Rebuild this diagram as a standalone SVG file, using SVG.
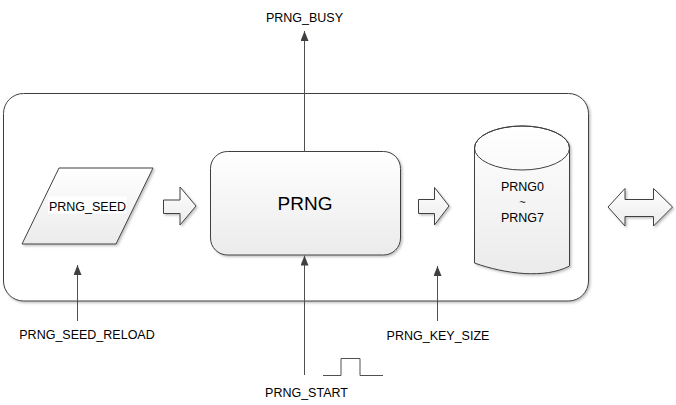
<svg xmlns="http://www.w3.org/2000/svg" width="676" height="405" viewBox="0 0 676 405">
<defs>
<linearGradient id="g" x1="0" y1="0" x2="0" y2="1">
<stop offset="0" stop-color="#ffffff"/>
<stop offset="1" stop-color="#ebebeb"/>
</linearGradient>
<filter id="sh" x="-10%" y="-10%" width="130%" height="130%">
<feDropShadow dx="1.5" dy="1.5" stdDeviation="1" flood-color="#000" flood-opacity="0.25"/>
</filter>
<marker id="ah" markerWidth="10" markerHeight="8" refX="10" refY="4" orient="auto" markerUnits="userSpaceOnUse">
<path d="M0,0 L10,4 L0,8 z" fill="#404040"/>
</marker>
<style>
.shape{fill:url(#g);stroke:#404040;stroke-width:1;filter:url(#sh)}
.t{font-family:"Liberation Sans",Arial,sans-serif;font-size:12.5px;fill:#000;text-anchor:middle}
.c{stroke:#505050;stroke-width:1;fill:none}
</style>
</defs>
<rect width="676" height="405" fill="#fff"/>
<g id="outer">
<rect x="3.5" y="93.5" width="585" height="207.5" rx="20" ry="20" fill="#fff" stroke="#404040" stroke-width="1" filter="url(#sh)"/>
</g>
<g id="seed">
<polygon class="shape" points="59,168 153,168 116,244 22,244"/>
<rect x="48" y="196.5" width="79" height="17" fill="#fff"/>
<text class="t" x="87.5" y="210.5">PRNG_SEED</text>
</g>
<g id="arrow1">
<polygon class="shape" points="163.5,200 180,200 180,187 196,206 180,225 180,213.5 163.5,213.5"/>
</g>
<g id="prng">
<rect class="shape" x="210.5" y="151.5" width="190" height="103.5" rx="17" ry="17"/>
<text class="t" x="305" y="210" style="font-size:19px">PRNG</text>
</g>
<g id="arrow2">
<polygon class="shape" points="418.5,199.5 434.5,199.5 434.5,187.5 449,206 434.5,225 434.5,213.5 418.5,213.5"/>
</g>
<g id="store">
<path class="shape" d="M474.5,148 A47.5,22 0 0 1 569.5,148 L569.5,266 C545,279 505,274 474.5,263 Z"/>
<ellipse cx="522" cy="148" rx="47.5" ry="22" fill="none" stroke="#404040" stroke-width="1"/>
<text class="t" x="522.5" y="190.5">PRNG0</text>
<text class="t" x="522.5" y="206" style="font-size:11px">~</text>
<text class="t" x="522.5" y="221.5">PRNG7</text>
</g>
<g id="bus">
<polygon class="shape" points="608,207 625,188.5 625,199.5 653.5,199.5 653.5,188.5 672.5,207 653.5,226 653.5,216.5 625,216.5 625,226"/>
</g>
<g id="connectors">
<line class="c" x1="304.5" y1="151.5" x2="304.5" y2="31" marker-end="url(#ah)"/>
<line class="c" x1="77.5" y1="321" x2="77.5" y2="265" marker-end="url(#ah)"/>
<line class="c" x1="304.5" y1="375" x2="304.5" y2="255.5" marker-end="url(#ah)"/>
<line class="c" x1="437.5" y1="321" x2="437.5" y2="266" marker-end="url(#ah)"/>
<polyline class="c" points="323,375.5 341,375.5 341,358.5 360,358.5 360,375.5 383,375.5"/>
</g>
<g id="labels">
<text class="t" x="304.5" y="22">PRNG_BUSY</text>
<text class="t" x="87" y="339">PRNG_SEED_RELOAD</text>
<text class="t" x="438" y="340">PRNG_KEY_SIZE</text>
<text class="t" x="306.5" y="397">PRNG_START</text>
</g>
</svg>
